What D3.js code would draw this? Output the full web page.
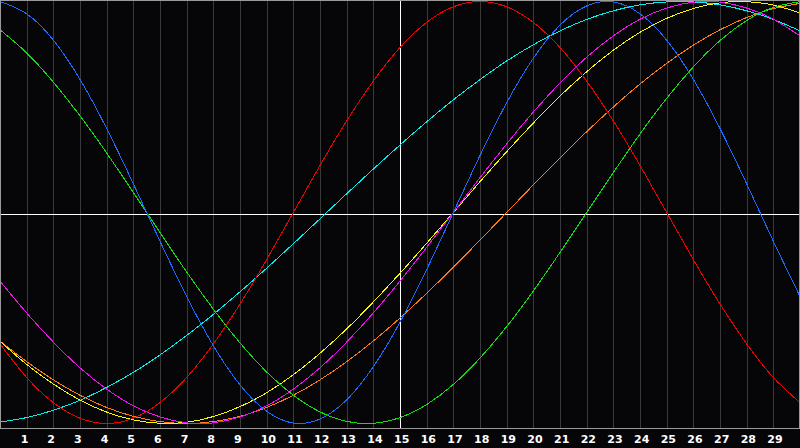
<!DOCTYPE html>
<html>
<head>
<meta charset="utf-8">
<script src="https://cdn.jsdelivr.net/npm/d3@7"></script>
<style>
  html, body { margin: 0; padding: 0; background: #060608; }
  svg { display: block; }
</style>
</head>
<body>
<div id="chart"></div>
<script>
// Days along the x axis (0 = left edge, 30 = right edge)
const days = d3.range(0, 31);
const dayLabels = d3.range(1, 30);

// Values, one per day, -1 (bottom) .. 1 (top)
const blueValues = [1.00, 0.942, 0.817, 0.631, 0.398, 0.136, -0.136, -0.398, -0.631, -0.817, -0.942,
  -0.998, -0.979, -0.888, -0.731, -0.520, -0.270, 0.000, 0.270, 0.520, 0.731,
  0.888, 0.979, 0.998, 0.942, 0.817, 0.631, 0.398, 0.136, -0.136, -0.398];
const redValues = [-0.623, -0.782, -0.901, -0.975, -1.00, -0.975, -0.901, -0.782, -0.623, -0.434, -0.223,
  0.000, 0.223, 0.434, 0.623, 0.782, 0.901, 0.975, 1.00, 0.975, 0.901,
  0.782, 0.623, 0.434, 0.223, 0.000, -0.223, -0.434, -0.623, -0.782, -0.901];
const greenValues = [0.866, 0.756, 0.618, 0.458, 0.282, 0.095, -0.095, -0.282, -0.458, -0.618, -0.756,
  -0.866, -0.945, -0.990, -0.999, -0.972, -0.910, -0.815, -0.690, -0.541, -0.372,
  -0.189, 0.000, 0.189, 0.372, 0.541, 0.690, 0.815, 0.910, 0.972, 0.999];
const cyanValues = [-0.993, -0.972, -0.937, -0.890, -0.829, -0.758, -0.675, -0.583, -0.483, -0.376, -0.264,
  -0.148, -0.030, 0.089, 0.206, 0.320, 0.430, 0.534, 0.630, 0.718, 0.795,
  0.861, 0.915, 0.956, 0.984, 0.998, 0.998, 0.984, 0.956, 0.915, 0.861];
const magentaValues = [-0.325, -0.476, -0.614, -0.736, -0.837, -0.916, -0.969, -0.997, -0.997, -0.969, -0.916,
  -0.837, -0.736, -0.614, -0.476, -0.325, -0.165, 0.000, 0.165, 0.325, 0.476,
  0.614, 0.736, 0.837, 0.916, 0.969, 0.997, 0.997, 0.969, 0.916, 0.837];
const yellowValues = [-0.611, -0.720, -0.813, -0.889, -0.946, -0.983, -0.999, -0.994, -0.967, -0.920, -0.854,
  -0.769, -0.667, -0.552, -0.424, -0.288, -0.146, 0.000, 0.146, 0.288, 0.424,
  0.552, 0.667, 0.769, 0.854, 0.920, 0.967, 0.994, 0.999, 0.983, 0.946];
const orangeValues = [-0.609, -0.707, -0.793, -0.866, -0.924, -0.966, -0.991, -1.00, -0.991, -0.966, -0.924,
  -0.866, -0.793, -0.707, -0.609, -0.500, -0.383, -0.259, -0.131, 0.000, 0.131,
  0.259, 0.383, 0.500, 0.609, 0.707, 0.793, 0.866, 0.924, 0.966, 0.991];

const series = [
  { name: 'cyan', color: '#00f0f0', values: cyanValues },
  { name: 'orange', color: '#ff7a10', values: orangeValues },
  { name: 'yellow', color: '#f8f800', values: yellowValues },
  { name: 'magenta', color: '#f010f0', values: magentaValues },
  { name: 'green', color: '#10e010', values: greenValues },
  { name: 'red', color: '#f00000', values: redValues },
  { name: 'blue', color: '#1a6cff', values: blueValues }
];

const width = 800;
const height = 448;
const plotBottom = 428;

const svg = d3.select('#chart')
  .append('svg')
  .attr('width', width)
  .attr('height', height);

svg.append('rect')
  .attr('width', width)
  .attr('height', height)
  .attr('fill', '#060608');

const x = d3.scaleLinear().domain([0, 30]).range([0, 800]);
const y = d3.scaleLinear().domain([-1, 1]).range([423.5, 1.5]);

// Day grid lines
svg.append('g')
  .selectAll('line')
  .data(dayLabels)
  .enter().append('line')
  .attr('x1', d => Math.round(x(d)) + 0.5)
  .attr('x2', d => Math.round(x(d)) + 0.5)
  .attr('y1', 0)
  .attr('y2', plotBottom)
  .attr('stroke', '#3a3a3a')
  .attr('stroke-width', 1)
  .attr('shape-rendering', 'crispEdges');

// Curves
svg.append('defs').append('clipPath')
  .attr('id', 'plot-clip')
  .append('rect')
  .attr('x', 0).attr('y', 0)
  .attr('width', width).attr('height', plotBottom);

const line = d3.line()
  .x((d, i) => x(days[i]))
  .y(d => y(d))
  .curve(d3.curveNatural);

const curves = svg.append('g').attr('clip-path', 'url(#plot-clip)');

// Centre cross (white)
curves.append('line')
  .attr('x1', 0).attr('x2', width)
  .attr('y1', 214.5).attr('y2', 214.5)
  .attr('stroke', '#ffffff')
  .attr('shape-rendering', 'crispEdges');
curves.append('line')
  .attr('x1', x(15) + 0.5).attr('x2', x(15) + 0.5)
  .attr('y1', 0).attr('y2', plotBottom)
  .attr('stroke', '#ffffff')
  .attr('shape-rendering', 'crispEdges');

curves.selectAll('path.curve')
  .data(series)
  .enter().append('path')
  .attr('class', 'curve')
  .attr('d', d => line(d.values))
  .attr('fill', 'none')
  .attr('stroke', d => d.color)
  .attr('stroke-width', 1)
  .attr('shape-rendering', 'crispEdges');

// Frame
svg.append('rect')
  .attr('x', 0.5).attr('y', 0.5)
  .attr('width', width - 1)
  .attr('height', plotBottom)
  .attr('fill', 'none')
  .attr('stroke', '#9a9a9a')
  .attr('stroke-width', 1)
  .attr('shape-rendering', 'crispEdges');

// Day labels
svg.append('g')
  .selectAll('text')
  .data(dayLabels)
  .enter().append('text')
  .attr('x', d => x(d) - 6)
  .attr('y', 443)
  .text(d => d)
  .style('font-family', '"DejaVu Sans", Verdana, sans-serif')
  .style('font-size', '11px')
  .style('font-weight', 'bold')
  .style('fill', '#ffffff');
</script>
</body>
</html>
